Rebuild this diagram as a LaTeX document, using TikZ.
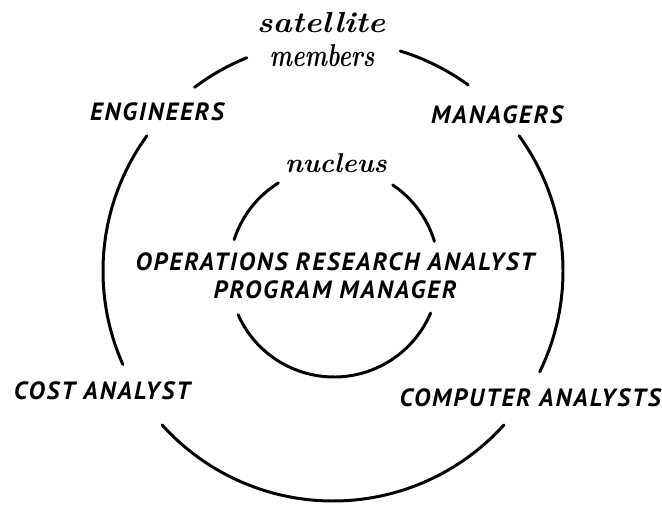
\documentclass[tikz,border=0pt]{standalone}
\usepackage{fontspec}
\usepackage{graphicx}
\newfontfamily\handfont[LetterSpace=8]{PT Sans}
\usetikzlibrary{positioning}
\tikzset{
  ring arc/.style args={#1:#2:#3}{
    insert path={+ (#1:#3) arc (#1:#2:#3)}
  }
}
\tikzset{
  crew/.style={font=\handfont\bfseries\itshape\fontsize{14.2}{16}\selectfont, inner sep=0pt, align=center},
  script/.style={font=\bfseries\itshape\fontsize{#1}{#1}\selectfont, inner sep=0pt, anchor=base},
  script/.default=17
}
\newcommand{\widen}[2]{\scalebox{#1}[1]{#2}}

\begin{document}
\begin{tikzpicture}[x=0.02cm, y=0.02cm, line width=1.7pt, line cap=round]
\useasboundingbox (0,0) rectangle (662,506);
% outer ring: satellite members
\coordinate (outer) at (333,235);
\draw (outer) [ring arc=112:127:230];
\draw (outer) [ring arc=54:73:230];
\draw (outer) [ring arc=144:204:230];
\draw (outer) [ring arc=-26:36:230];
\draw (outer) [ring arc=222:318:230];
% inner ring: nucleus
\coordinate (inner) at (334,234);
\draw (inner) [ring arc=122:162:105];
\draw (inner) [ring arc=17:56:105];
\draw (inner) [ring arc=204:337:105];
% labels
\node [script=16.5] (satellite) at (321,473) {\widen{1.12}{satellite}};
\node [script=18] (members) at (322,439) {\widen{0.75}{members}};
\node [script=15.5] (nucleus) at (336,333) {nucleus};
\node [crew] (engineers) at (157,394) {ENGINEERS};
\node [crew] (managers) at (497,391) {MANAGERS};
\node [crew] (cost) at (102,115) {COST ANALYST};
\node [crew] (computer) at (530,108) {COMPUTER ANALYSTS};
\node [crew] (core) at (335,230) {OPERATIONS RESEARCH ANALYST\\PROGRAM MANAGER};
\end{tikzpicture}
\end{document}
